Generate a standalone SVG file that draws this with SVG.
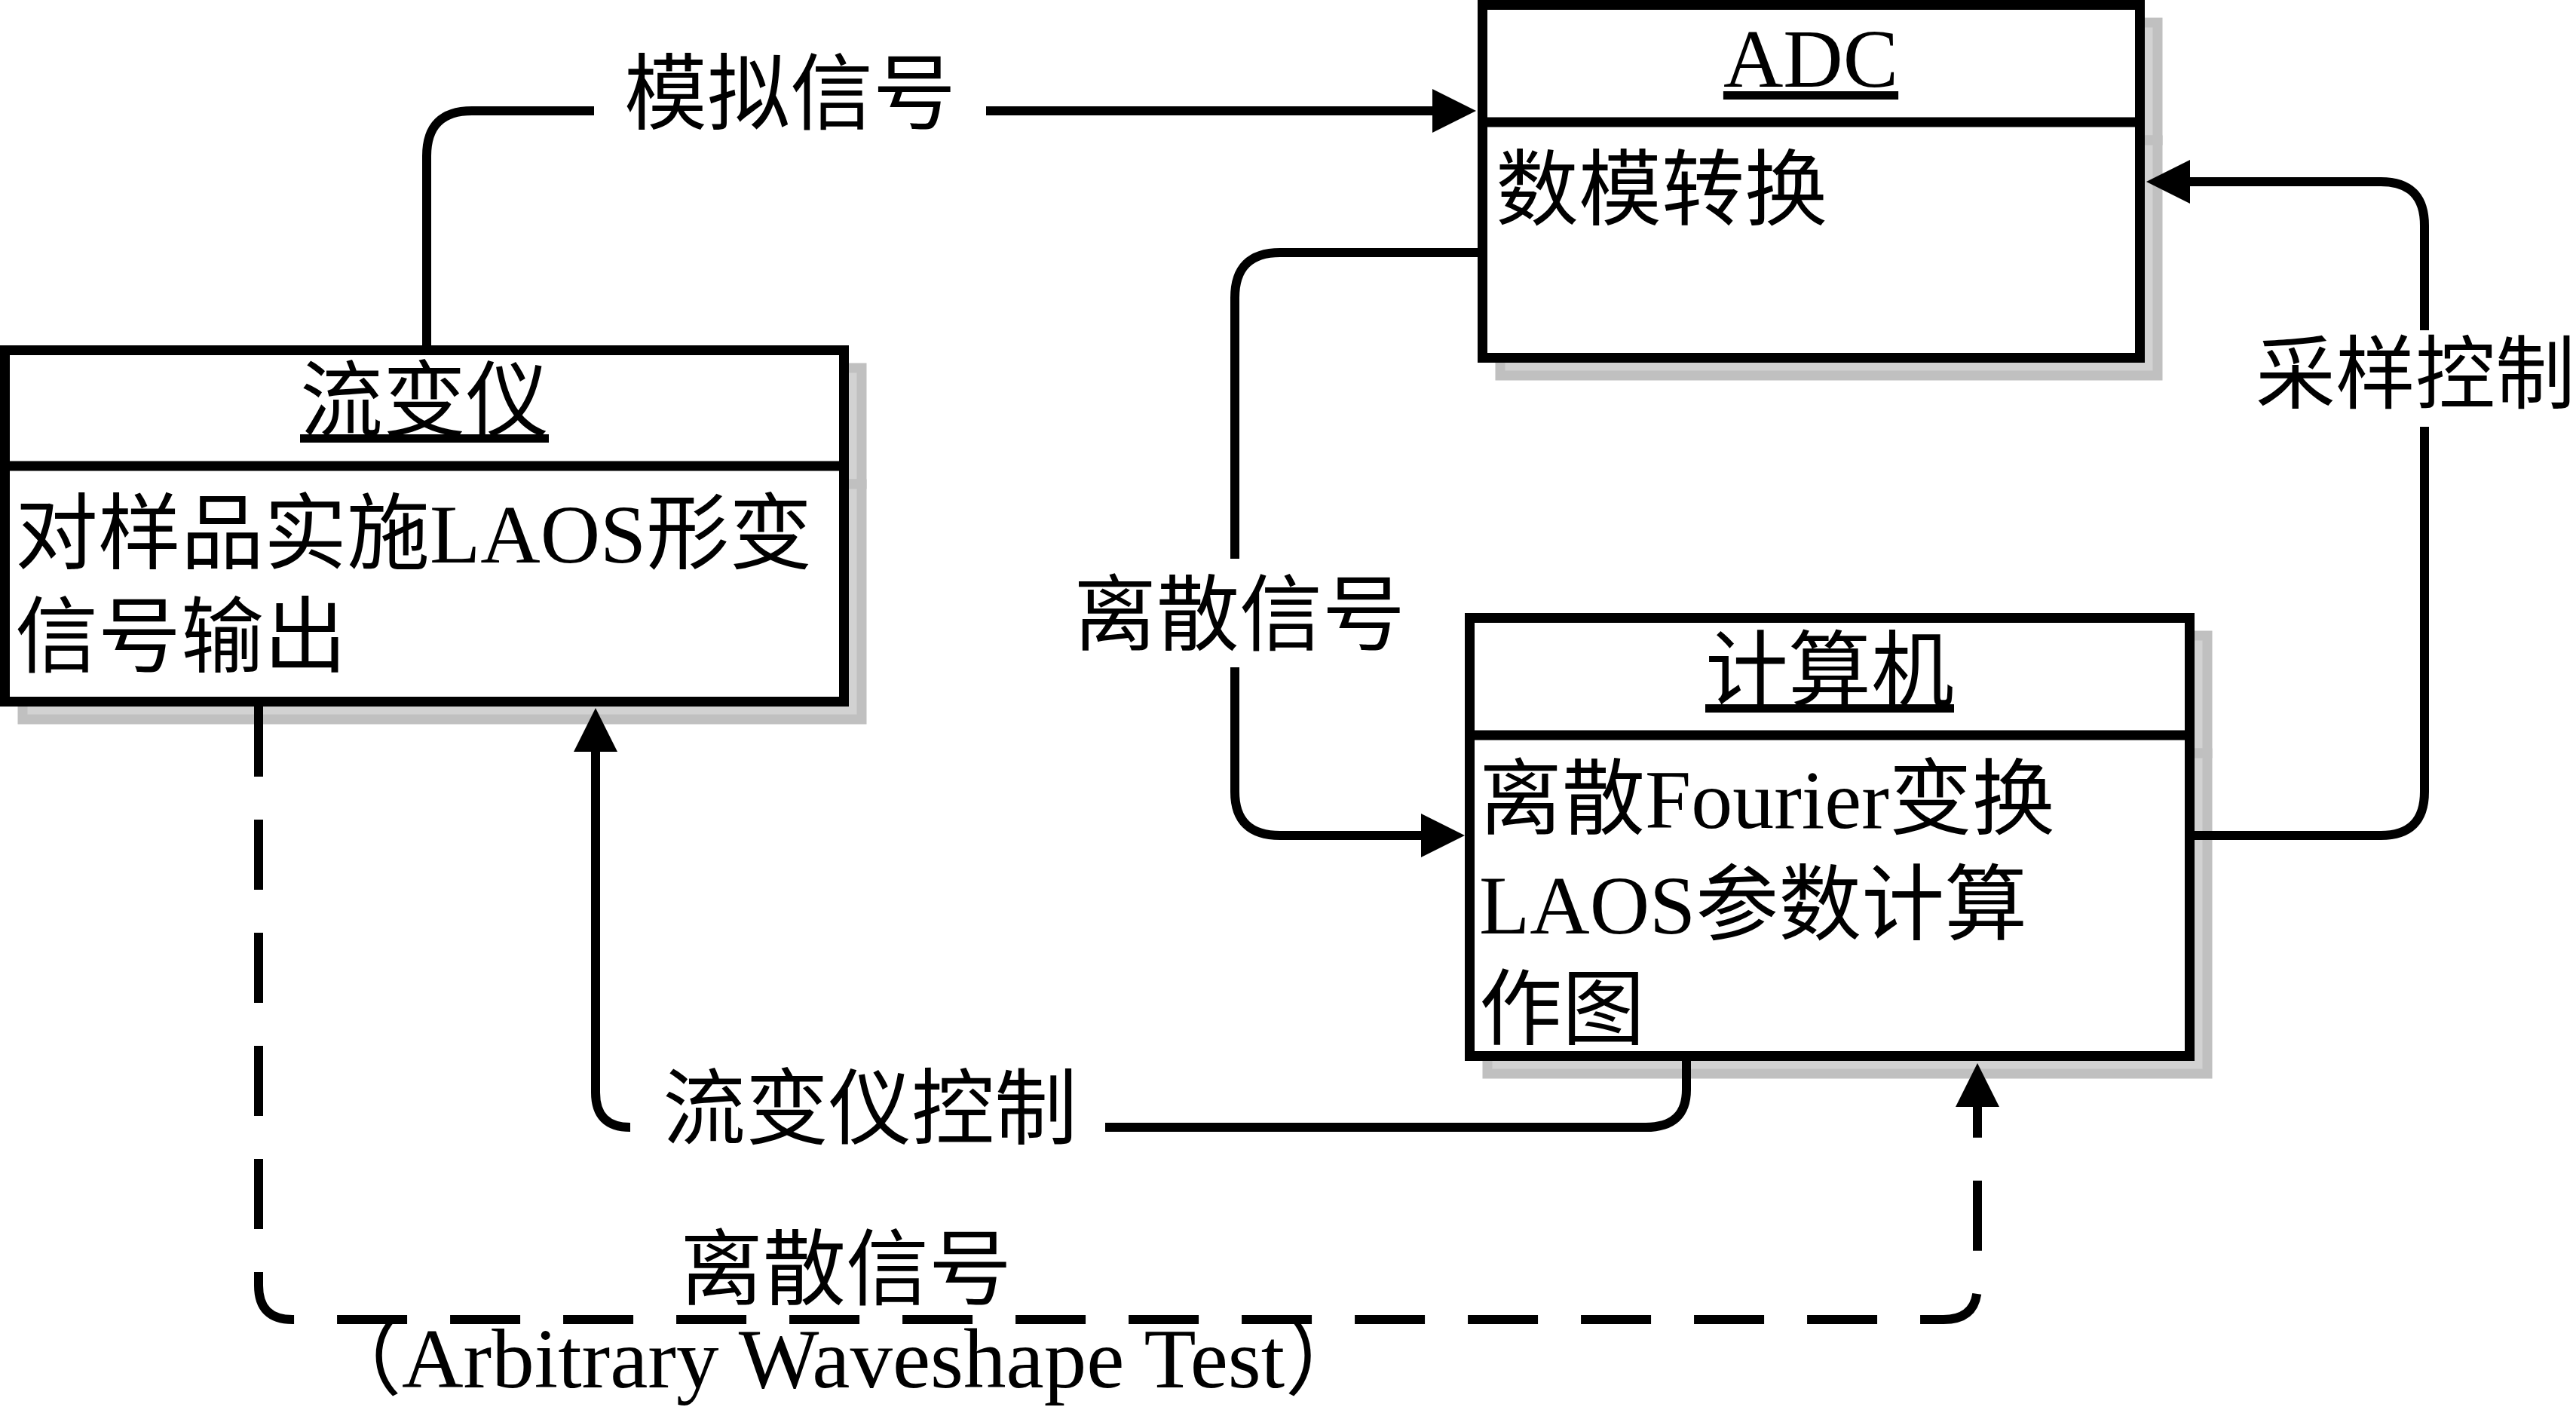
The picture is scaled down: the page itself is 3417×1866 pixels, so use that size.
<svg xmlns="http://www.w3.org/2000/svg" width="3417" height="1866" viewBox="0 0 3417 1866">
<style>
text{font-family:"Liberation Serif","Noto Sans CJK SC",serif;font-size:110px;fill:#000}
.t{text-anchor:middle;text-decoration:underline}
.box{fill:#fff;stroke:#000;stroke-width:13}
.sh{fill:#d2d2d2;stroke:#c0c0c0;stroke-width:13}
.ln{fill:none;stroke:#000;stroke-width:12}
.dash{fill:none;stroke:#000;stroke-width:12;stroke-dasharray:93 57}
.lbl{text-anchor:middle}
</style>
<defs>
<marker id="ah" markerUnits="userSpaceOnUse" markerWidth="58" markerHeight="58" viewBox="0 0 58 58" refX="2" refY="29" orient="auto">
<path d="M0,0 L58,29 L0,58 z" fill="#000"/>
</marker>
</defs>
<g id="rheometer">
<rect class="sh" x="30" y="488" width="1113" height="154"/>
<rect class="sh" x="30" y="642" width="1113" height="312"/>
<rect class="box" x="6.5" y="464.5" width="1113" height="466"/>
<line x1="6.5" y1="618" x2="1119.5" y2="618" stroke="#000" stroke-width="13"/>
<text class="t" x="563" y="570">流变仪</text>
<text x="20" y="746">对样品实施LAOS形变</text>
<text x="20" y="883">信号输出</text>
</g>
<g id="adc">
<rect class="sh" x="1990" y="30" width="872" height="156"/>
<rect class="sh" x="1990" y="186" width="872" height="312"/>
<rect class="box" x="1966.5" y="6.5" width="872" height="468"/>
<line x1="1966.5" y1="162" x2="2838.5" y2="162" stroke="#000" stroke-width="13"/>
<text class="t" x="2402" y="115">ADC</text>
<text x="1984" y="290">数模转换</text>
</g>
<g id="computer">
<rect class="sh" x="1973" y="843" width="955" height="156"/>
<rect class="sh" x="1973" y="999" width="955" height="425"/>
<rect class="box" x="1949.5" y="819.5" width="955" height="581"/>
<line x1="1949.5" y1="975" x2="2904.5" y2="975" stroke="#000" stroke-width="13"/>
<text class="t" x="2427" y="928">计算机</text>
<text x="1962" y="1098">离散Fourier变换</text>
<text x="1962" y="1238">LAOS参数计算</text>
<text x="1962" y="1377">作图</text>
</g>
<g id="connectors">
<path class="ln" d="M566,458 L566,207 Q566,147 626,147 L788,147"/>
<path class="ln" d="M1308,147 L1902,147" marker-end="url(#ah)"/>
<text class="lbl" x="1048" y="163">模拟信号</text>
<path class="ln" d="M1960,335 L1698,335 Q1638,335 1638,395 L1638,741"/>
<path class="ln" d="M1638,885 L1638,1050 Q1638,1108 1698,1108 L1887,1108" marker-end="url(#ah)"/>
<text class="lbl" x="1644" y="854">离散信号</text>
<path class="ln" d="M2911,1108 L3158,1108 Q3216,1108 3216,1050 L3216,566"/>
<path class="ln" d="M3216,438 L3216,299 Q3216,241 3158,241 L2903,241" marker-end="url(#ah)"/>
<text x="2992" y="533" style="font-size:106px">采样控制</text>
<path class="ln" d="M2237,1407 L2237,1445 Q2237,1495 2183,1495 L1466,1495"/>
<path class="ln" d="M836,1495 Q790,1495 790,1449 L790,995" marker-end="url(#ah)"/>
<text class="lbl" x="1154" y="1509">流变仪控制</text>
<path class="dash" d="M343,937 L343,1705 Q343,1750 388,1750 L2578,1750 Q2623,1750 2623,1705 L2623,1466" marker-end="url(#ah)"/>
<text class="lbl" x="1122" y="1722">离散信号</text>
<text x="420" y="1840" style="font-size:113px">（Arbitrary Waveshape Test）</text>
</g>
</svg>
